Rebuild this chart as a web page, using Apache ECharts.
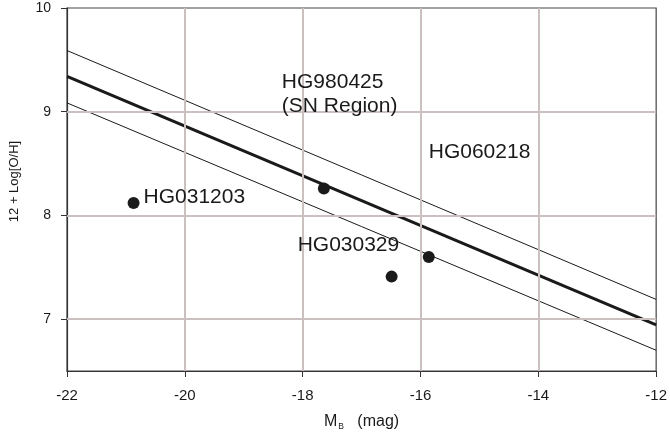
<!DOCTYPE html>
<html>
<head>
<meta charset="utf-8">
<script src="https://cdn.jsdelivr.net/npm/echarts@6/dist/echarts.min.js"></script>
<style>html,body{margin:0;padding:0;background:#fff}#c{width:670px;height:439px}</style>
</head>
<body>
<div id="c"></div>
<script>
// Data
var xTicks = [-22, -20, -18, -16, -14, -12];
var yTicks = [7, 8, 9, 10];
var xGrid = [-20, -18, -16, -14];
var yGrid = [7, 8, 9];
var hostNames = ['HG031203', 'HG980425\n(SN Region)', 'HG030329', 'HG060218'];
var hostMB = [-20.87, -17.64, -16.49, -15.86];
var hostOH = [8.12, 8.26, 7.41, 7.60];
var fitX = [-22, -12];
var fitMid = [9.34, 6.945];
var fitUpper = [9.59, 7.19];
var fitLower = [9.085, 6.70];

var labelOffsets = [[10, -6], [-42, -94], [-94, -31], [0, -105]];

var chart = echarts.init(document.getElementById('c'), null, {renderer: 'canvas'});
var FONT = 'Liberation Sans, Arial, Helvetica, sans-serif';
var gridColor = '#cac0c0';
var ink = '#1a1a1a';

function pairs(xs, ys) { return xs.map(function (x, i) { return [x, ys[i]]; }); }

var option = {
  animation: false,
  backgroundColor: '#fff',
  grid: {left: 64, top: 8, right: 9, bottom: 68, show: true, borderColor: '#444', borderWidth: 1.2, backgroundColor: 'transparent'},
  xAxis: {
    type: 'value', min: -22, max: -12, interval: 2,
    name: '{m|M}{s|B}{n|   (mag)}', nameLocation: 'middle', nameGap: 42,
    nameTextStyle: {rich: {
      m: {fontFamily: FONT, fontSize: 16, color: '#1a1a1a'},
      s: {fontFamily: FONT, fontSize: 8.5, color: '#1a1a1a', verticalAlign: 'bottom', padding: [9, 0, 0, 1]},
      n: {fontFamily: FONT, fontSize: 16, color: '#1a1a1a'}
    }},
    axisLine: {show: true, onZero: false, lineStyle: {color: '#333', width: 1.2}},
    axisTick: {show: true, length: 6, lineStyle: {color: '#333'}},
    axisLabel: {fontFamily: FONT, fontSize: 15, color: '#1a1a1a', margin: 17},
    splitLine: {show: false}
  },
  yAxis: {
    type: 'value', min: 6.5, max: 10,
    name: '12 + Log[O/H]', nameLocation: 'middle', nameGap: 46,
    nameTextStyle: {fontFamily: FONT, fontSize: 13, color: '#1a1a1a', padding: [0, 0, 0, 16]},
    axisLine: {show: true, onZero: false, lineStyle: {color: '#333', width: 1.2}},
    axisTick: {show: true, length: 6, customValues: yTicks, lineStyle: {color: '#333'}},
    axisLabel: {fontFamily: FONT, fontSize: 14, color: '#1a1a1a', margin: 16, customValues: yTicks},
    splitLine: {show: false}
  },
  series: [
    {
      type: 'line', data: [], z: 1, silent: true,
      markLine: {
        silent: true, symbol: 'none', animation: false,
        label: {show: false},
        lineStyle: {color: gridColor, width: 2, type: 'solid'},
        emphasis: {disabled: true},
        data: yGrid.map(function (v) { return {yAxis: v}; }).concat(xGrid.map(function (v) { return {xAxis: v}; }))
      }
    },
    {type: 'line', z: 3, symbol: 'none', silent: true, data: pairs(fitX, fitUpper), lineStyle: {color: ink, width: 1}},
    {type: 'line', z: 3, symbol: 'none', silent: true, data: pairs(fitX, fitLower), lineStyle: {color: ink, width: 1}},
    {type: 'line', z: 4, symbol: 'none', silent: true, data: pairs(fitX, fitMid), lineStyle: {color: ink, width: 3}},
    {
      type: 'scatter', z: 5, symbol: 'circle', symbolSize: 12, silent: true,
      itemStyle: {color: ink, opacity: 1},
      data: hostMB.map(function (x, i) {
        return {
          value: [x, hostOH[i]],
          label: {
            show: true, formatter: hostNames[i], position: 'inside',
            align: 'left', verticalAlign: 'middle', offset: labelOffsets[i],
            fontFamily: FONT, fontSize: 21, lineHeight: 24, color: '#1a1a1a', opacity: 1
          }
        };
      })
    }
  ]
};
chart.setOption(option);
</script>
</body>
</html>
